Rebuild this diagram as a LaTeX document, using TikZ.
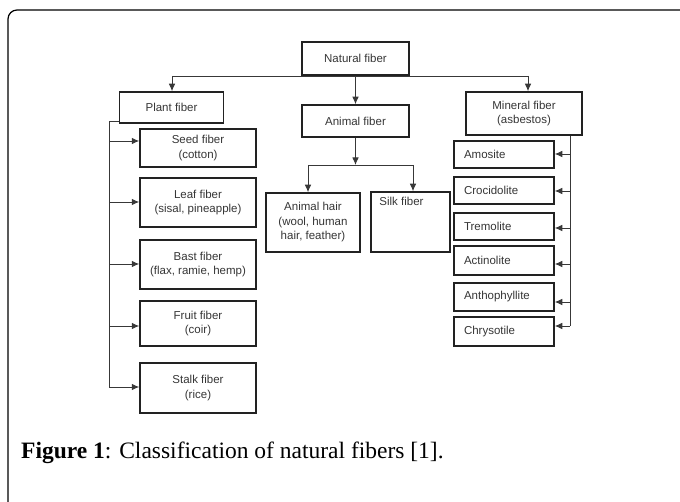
\documentclass[tikz,border=0pt]{standalone}
\usepackage{fontspec}
\setmainfont{Liberation Serif}
\setsansfont{Liberation Sans}
\usetikzlibrary{arrows.meta}

\definecolor{boxline}{HTML}{222222}
\definecolor{boxtext}{HTML}{363636}

\tikzset{
  fbox/.style={draw=boxline, line width=1.5pt, fill=white, inner sep=0pt, align=center,
    text=boxtext, font=\sffamily\fontsize{11.5}{14.5}\selectfont},
  plantbox/.style={fbox, minimum width=116pt},
  minbox/.style={fbox, minimum height=27pt, text width=80pt, inner xsep=10pt, align=left},
  link/.style={draw=boxline!90, line width=0.9pt},
  tip/.style={link, -{Latex[length=7.5pt,width=6.5pt]}},
}

\begin{document}
\begin{tikzpicture}[x=1pt, y=-1pt]
\useasboundingbox (0,0) rectangle (680,502);
\clip (0,0) rectangle (680,502);
% outer frame
\draw[line width=1.2pt, rounded corners=9pt] (8,10) rectangle (690,514);

% top levels
\node[fbox, minimum width=107pt, minimum height=33pt] (natural) at (355.5,58.5) {Natural fiber};
\node[fbox, minimum width=104pt, minimum height=31pt] (plant) at (171.5,107.5) {Plant fiber};
\node[fbox, minimum width=107pt, minimum height=32pt] (animal) at (355.5,121) {Animal fiber};
\node[fbox, minimum width=116pt, minimum height=43pt] (mineral) at (524,113.5) {Mineral fiber\\(asbestos)};

% plant fibers
\node[plantbox, minimum height=38pt] (seed) at (198,148) {Seed fiber\\(cotton)};
\node[plantbox, minimum height=49pt] (leaf) at (198,202.5) {Leaf fiber\\(sisal, pineapple)};
\node[plantbox, minimum height=49pt] (bast) at (198,264.5) {Bast fiber\\(flax, ramie, hemp)};
\node[plantbox, minimum height=45pt] (fruit) at (198,323.5) {Fruit fiber\\(coir)};
\node[plantbox, minimum height=50pt] (stalk) at (198,388) {Stalk fiber\\(rice)};

% animal fibers
\node[fbox, minimum width=94pt, minimum height=59pt] (hair) at (313,222.5) {Animal hair\\(wool, human\\hair, feather)};
\node[fbox, minimum width=79pt, minimum height=60pt,
  label={[anchor=north west, inner xsep=9pt, inner ysep=6pt, text=boxtext,
    font=\sffamily\fontsize{11.5}{14.5}\selectfont]north west:Silk fiber}] (silk) at (410.5,222) {};

% mineral fibers
\node[minbox] (amosite) at (504,154.5) {Amosite};
\node[minbox] (crocidolite) at (504,190.5) {Crocidolite};
\node[minbox] (tremolite) at (504,226.5) {Tremolite};
\node[minbox, minimum height=29pt] (actinolite) at (504,260.5) {Actinolite};
\node[minbox, minimum height=28pt] (anthophyllite) at (504,297) {Anthophyllite};
\node[minbox, minimum height=29pt] (chrysotile) at (504,331.5) {Chrysotile};

% natural fiber branches
\coordinate (nl) at (172,76);
\coordinate (nr) at (528,76);
\draw[link] (nl) -- (nr);
\draw[tip] (nl) -- (nl |- plant.north);
\draw[tip] (natural.south) -- (animal.north);
\draw[tip] (nr) -- (nr |- mineral.north);

% plant spine
\coordinate (pspine) at (109,387);
\draw[link] ([yshift=2pt]plant.south west) -| (pspine);
\foreach \n/\s in {seed/7, leaf/0.5, bast/0.5, fruit/-2.5, stalk/1}
  \draw[tip] ([yshift=\s pt]\n.west -| pspine) -- ([yshift=\s pt]\n.west);

% animal branch
\coordinate (aj) at (355.5,165);
\coordinate (al) at (308,165);
\coordinate (ar) at (413,165);
\draw[tip] (animal.south) -- (aj);
\draw[link] (al) -- (ar);
\draw[tip] (al) -- (al |- hair.north);
\draw[tip] (ar) -- (ar |- silk.north);

% mineral spine
\coordinate (mspine) at (570,326);
\draw[link] (mspine |- mineral.south) -- (mspine);
\foreach \n/\s in {amosite/0.5, crocidolite/-0.5, tremolite/-1.5, actinolite/-3.5, anthophyllite/-5, chrysotile/5.5}
  \draw[tip] ([yshift=\s pt]\n.east -| mspine) -- ([yshift=\s pt]\n.east);

% caption
\node[anchor=base west, inner sep=0pt, font=\fontsize{23.5}{27}\selectfont] (caption) at (21,458)
  {\textbf{Figure 1}: Classification of natural fibers [1].};
\end{tikzpicture}
\end{document}
